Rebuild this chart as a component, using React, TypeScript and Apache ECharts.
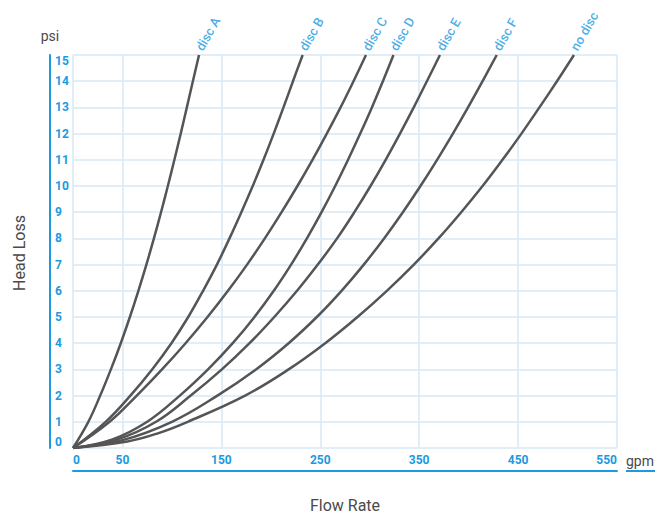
import React, { useEffect, useRef } from "react";
import * as echarts from "echarts";

// Flow (gpm) vs head loss (psi) curves
const discA: number[][] = [[0,0],[15.5,1],[27.5,2],[38.3,3],[48.3,4],[57.5,5],[66.1,6],[74.2,7],[81.8,8],[89,9],[95.9,10],[102.5,11],[108.9,12],[115.1,13],[121.2,14],[127.4,15]];
const discB: number[][] = [[0,0],[33,1],[58,2],[80,3],[99.5,4],[116.5,5],[131.5,6],[145.5,7],[158.2,8],[170.2,9],[181.7,10],[192.6,11],[202.9,12],[212.8,13],[222.4,14],[232.2,15]];
const discC: number[][] = [[0,0],[37,1],[64.5,2],[90,3],[113.8,4],[136,5],[156.7,6],[176,7],[194,8],[210.9,9],[226.9,10],[242.1,11],[256.6,12],[270.5,13],[283.6,14],[296.2,15]];
const discD: number[][] = [[0,0],[40,0.33],[75,1],[108,2],[136.5,3],[161.5,4],[183.5,5],[203,6],[220.5,7],[236.5,8],[251.3,9],[265.1,10],[278.1,11],[290.4,12],[302.2,13],[313.3,14],[324,15]];
const discE: number[][] = [[0,0],[45,0.33],[84,1],[119,2],[150.5,3],[178.5,4],[203.5,5],[226.5,6],[247.5,7],[267,8],[284.5,9],[300.8,10],[316.1,11],[330.6,12],[344.5,13],[357.8,14],[371,15]];
const discF: number[][] = [[0,0],[50,0.3],[100,1],[146,2],[185,3],[218,4],[246.5,5],[271.5,6],[294,7],[314.5,8],[333.5,9],[351.3,10],[368.1,11],[384.1,12],[399.4,13],[414.1,14],[428.4,15]];
const noDisc: number[][] = [[0,0],[55,0.25],[85,0.55],[116,1],[174,2],[218,3],[255,4],[287.6,5],[317.3,6],[344.6,7],[369.5,8],[392.5,9],[414.1,10],[434.2,11],[453.4,12],[471.6,13],[489.3,14],[506.5,15]];

const curveNames = ["disc A", "disc B", "disc C", "disc D", "disc E", "disc F", "no disc"];
const curves = [discA, discB, discC, discD, discE, discF, noDisc];

const xTickValues = [0, 50, 150, 250, 350, 450, 550];
const yMin = 0;
const yMax = 15;

const BLUE = "#1b9ae0";
const GRID = "#d7e8f6";
const TEXT = "#4a4a4a";
const FONT = "Roboto, 'Noto Sans', sans-serif";

export default function App() {
  const ref = useRef<HTMLDivElement>(null);
  useEffect(() => {
    document.body.style.margin = "0";
    if (!ref.current) return;
    const chart = echarts.init(ref.current, undefined, { renderer: "svg" });
    const lineSeries = curves.map((d, i) => ({
      type: "line",
      name: curveNames[i],
      data: d,
      smooth: 0.4,
      symbol: "none",
      lineStyle: { color: "#555555", width: 2.5 },
      z: 3,
    }));
    const labelSeries = {
      type: "scatter",
      symbolSize: 1,
      itemStyle: { color: "transparent" },
      silent: true,
      data: curves.map((d, i) => ({
        value: d[d.length - 1],
        name: curveNames[i],
      })),
      label: {
        show: true,
        formatter: (p: any) => p.name,
        position: "top",
        distance: 5,
        align: "left",
        verticalAlign: "middle",
        rotate: 60,
        color: BLUE,
        fontSize: 13,
        fontWeight: 500,
        fontFamily: FONT,
      },
      z: 4,
    };
    chart.setOption({
      animation: false,
      backgroundColor: "#ffffff",
      textStyle: { fontFamily: FONT },
      grid: {
        left: 73,
        right: 54,
        top: 55,
        bottom: 67,
        containLabel: false,
        outerBoundsMode: "none",
      },
      xAxis: {
        type: "value",
        min: 0,
        max: 550,
        offset: 23,
        axisLine: { show: true, onZero: false, lineStyle: { color: BLUE, width: 2 } },
        axisTick: { show: false, customValues: xTickValues },
        axisLabel: {
          customValues: xTickValues,
          inside: true,
          margin: 5,
          color: BLUE,
          fontWeight: "bold",
          fontSize: 12,
          fontFamily: FONT,
          alignMinLabel: "left",
          alignMaxLabel: "right",
        },
        splitLine: { show: true, lineStyle: { color: GRID, width: 1.5 } },
      },
      yAxis: {
        type: "value",
        min: yMin,
        max: yMax,
        interval: 1,
        offset: 23,
        name: "psi",
        nameLocation: "end",
        nameGap: 12,
        nameTextStyle: { color: TEXT, fontSize: 14, fontFamily: FONT },
        axisLine: { show: true, onZero: false, lineStyle: { color: BLUE, width: 2 } },
        axisTick: { show: false },
        axisLabel: {
          inside: true,
          margin: 5,
          color: BLUE,
          fontWeight: "bold",
          fontSize: 12,
          fontFamily: FONT,
          verticalAlignMaxLabel: "top",
          verticalAlignMinLabel: "bottom",
        },
        splitLine: { show: true, lineStyle: { color: GRID, width: 1.5 } },
      },
      graphic: [
        {
          type: "text",
          x: 19,
          y: 253,
          rotation: Math.PI / 2,
          style: {
            text: "Head Loss",
            fill: TEXT,
            fontSize: 16,
            fontFamily: FONT,
            align: "center",
            verticalAlign: "middle",
          },
        },
        {
          type: "text",
          x: 345,
          y: 505,
          style: {
            text: "Flow Rate",
            fill: TEXT,
            fontSize: 16,
            fontFamily: FONT,
            align: "center",
            verticalAlign: "middle",
          },
        },
        {
          type: "text",
          x: 626,
          y: 461,
          style: {
            text: "gpm",
            fill: TEXT,
            fontSize: 14,
            fontFamily: FONT,
            align: "left",
            verticalAlign: "middle",
          },
        },
        {
          type: "line",
          shape: { x1: 626, y1: 471, x2: 655, y2: 471 },
          style: { stroke: BLUE, lineWidth: 2 },
        },
      ],
      series: [...lineSeries, labelSeries],
    });
    return () => chart.dispose();
  }, []);
  return <div ref={ref} style={{ width: 671, height: 515 }} />;
}
